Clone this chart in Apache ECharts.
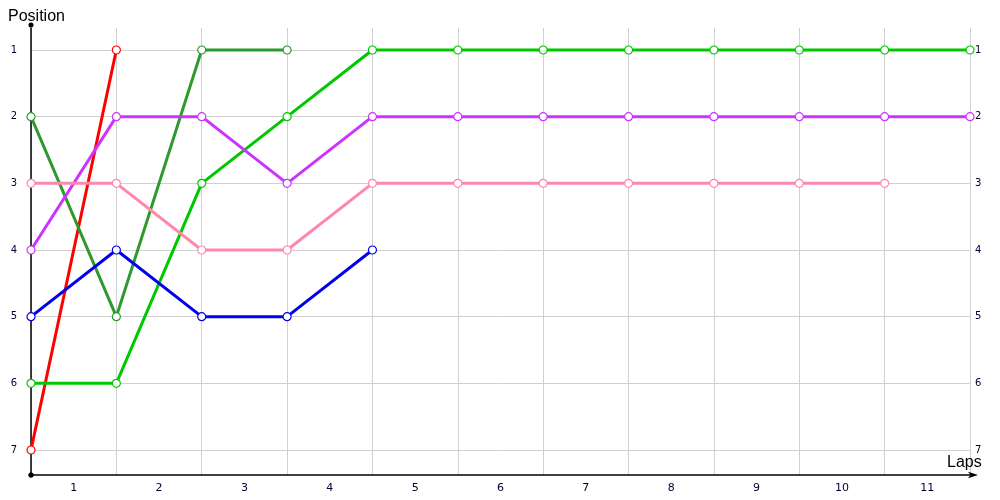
<!DOCTYPE html>
<html><head><meta charset="utf-8">
<script src="https://cdn.jsdelivr.net/npm/echarts@6/dist/echarts.min.js"></script>
<style>html,body{margin:0;padding:0;background:#fff}#c{width:1000px;height:500px}</style>
</head><body><div id="c"></div>
<script>
const laps = [0,1,2,3,4,5,6,7,8,9,10,11];
const lapLabels = ['1','2','3','4','5','6','7','8','9','10','11'];
const positions = [1,2,3,4,5,6,7];
const redPos = [7,1];
const darkGreenPos = [2,5,1,1];
const greenPos = [6,6,3,2,1,1,1,1,1,1,1,1];
const purplePos = [4,2,2,3,2,2,2,2,2,2,2,2];
const pinkPos = [3,3,4,4,3,3,3,3,3,3,3];
const bluePos = [5,4,5,5,4];

const seriesDefs = [
  {name:'Red', color:'#ff0000', data:redPos},
  {name:'DarkGreen', color:'#2e9a2e', data:darkGreenPos},
  {name:'Green', color:'#00c800', data:greenPos},
  {name:'Purple', color:'#cc33ff', data:purplePos},
  {name:'Pink', color:'#ff88aa', data:pinkPos},
  {name:'Blue', color:'#0000ee', data:bluePos}
];

const chart = echarts.init(document.getElementById('c'));
chart.setOption({
  animation:false,
  title:[
    {text:'Position', left:3, top:4, textStyle:{fontFamily:'Liberation Sans', fontSize:16, fontWeight:'normal', color:'#000'}},
    {text:'Laps', left:942, top:450, textStyle:{fontFamily:'Liberation Sans', fontSize:16, fontWeight:'normal', color:'#000'}}
  ],
  grid:{left:31, right:30, top:28, bottom:25, containLabel:false},
  xAxis:[
    {type:'value', min:0, max:11, interval:1,
     axisLine:{show:true, lineStyle:{color:'#000', width:1.5}, symbol:['circle','arrow'], symbolSize:[5,10], symbolOffset:[0,8]},
     axisTick:{show:false}, axisLabel:{show:false},
     splitLine:{show:true, lineStyle:{color:'#d0d0d0', width:1}}},
    {type:'category', data:lapLabels, boundaryGap:true, position:'bottom',
     axisLine:{show:false}, axisTick:{show:false}, splitLine:{show:false},
     axisLabel:{margin:8, fontFamily:'DejaVu Sans', fontSize:11, color:'#000033'}}
  ],
  yAxis:[
    {type:'value', inverse:true, min:1-22/66.667, max:7.375,
     axisLine:{show:true, lineStyle:{color:'#000', width:1.5}, symbol:['circle','circle'], symbolSize:[5,5], symbolOffset:[0,3]},
     axisTick:{show:false, customValues:positions},
     axisLabel:{customValues:positions, margin:14, fontFamily:'DejaVu Sans', fontSize:10, color:'#000033'},
     splitLine:{show:true, lineStyle:{color:'#d0d0d0', width:1}}},
    {type:'value', inverse:true, min:1-22/66.667, max:7.375, position:'right',
     axisLine:{show:false}, axisTick:{show:false, customValues:positions},
     axisLabel:{customValues:positions, margin:5, fontFamily:'DejaVu Sans', fontSize:10, color:'#000033'},
     splitLine:{show:false}}
  ],
  series: seriesDefs.map(s => ({
    type:'line', name:s.name, xAxisIndex:0, yAxisIndex:0,
    data: s.data.map((p,i) => [laps[i], p]),
    symbol:'circle', symbolSize:8, showSymbol:true,
    lineStyle:{color:s.color, width:3},
    itemStyle:{color:'#fff', borderColor:s.color, borderWidth:1.2},
    z:3
  }))
});
</script></body></html>
